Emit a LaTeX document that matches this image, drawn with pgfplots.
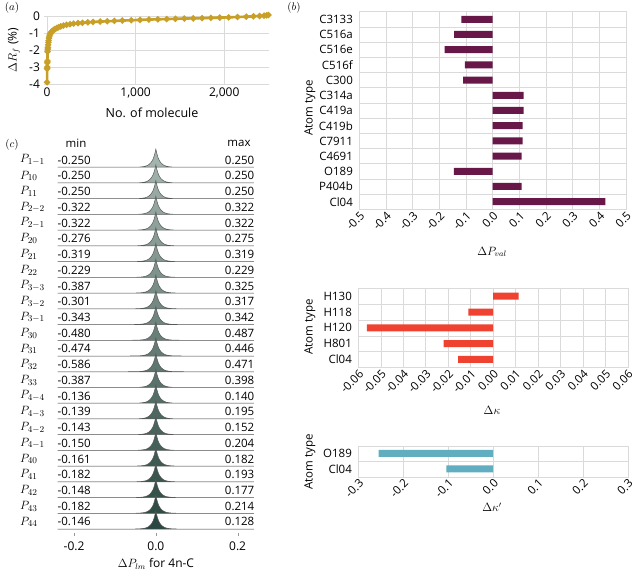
\documentclass[border=0pt]{standalone}
\usepackage{pgfplots}
\pgfplotsset{compat=1.18}
\usepackage{pgfplotstable}
\usepackage{fontspec}
\setmainfont{Open Sans}

\definecolor{gold}{RGB}{200,160,40}
\definecolor{plum}{RGB}{104,24,72}
\definecolor{tomato}{RGB}{240,66,48}
\definecolor{teal}{RGB}{96,174,192}
\definecolor{ridgeL}{RGB}{163,179,173}
\definecolor{ridgeD}{RGB}{42,72,65}
\definecolor{gridc}{RGB}{218,218,218}

% normalised peak shape shared by every ridge
\pgfplotstableread{
x d
-0.240 0
-0.070 0
-0.050 0.004
-0.040 0.012
-0.032 0.030
-0.026 0.055
-0.021 0.095
-0.017 0.150
-0.013 0.230
-0.010 0.320
-0.007 0.440
-0.005 0.560
-0.003 0.710
-0.0015 0.850
0.000 1.000
0.0015 0.850
0.003 0.710
0.005 0.560
0.007 0.440
0.010 0.320
0.013 0.230
0.017 0.150
0.021 0.095
0.026 0.055
0.032 0.030
0.040 0.012
0.050 0.004
0.070 0
0.240 0
}\shape

\pgfplotstableread{
n r
0 -3.90
1 -3.10
2 -3.00
3 -2.75
4 -2.65
6 -2.10
8 -1.95
10 -1.85
12 -1.70
15 -1.55
18 -1.45
22 -1.30
27 -1.18
33 -1.08
40 -1.00
50 -0.93
60 -0.88
75 -0.82
90 -0.77
110 -0.71
130 -0.66
155 -0.61
185 -0.56
220 -0.52
260 -0.48
300 -0.45
350 -0.42
400 -0.40
460 -0.37
520 -0.35
600 -0.33
680 -0.31
760 -0.29
850 -0.27
950 -0.25
1050 -0.23
1150 -0.21
1250 -0.195
1350 -0.18
1450 -0.165
1550 -0.15
1650 -0.14
1750 -0.125
1850 -0.11
1950 -0.095
2050 -0.08
2150 -0.06
2250 -0.04
2330 -0.02
2400 0.00
2450 0.02
2480 0.04
2500 0.06
}\rfactor

\newcommand{\ridge}[2]{\addplot[fill=ridgeL!#2!ridgeD, draw=black!65, line width=0.5pt]
  table[x=x, y expr={\thisrow{d}*1.15+#1}] {\shape} -- cycle;}

\pgfplotsset{
  barpanel/.style={
    scale only axis, anchor=north west, xbar, bar width=7pt,
    axis line style={gridc}, tick style={draw=none},
    xmajorgrids, yminorgrids, grid style={gridc}, minor grid style={gridc},
    ytick=data, scaled x ticks=false,
    font=\fontsize{11.5}{13}\selectfont,
    /pgf/number format/assume math mode=true,
    /pgf/number format/fixed, /pgf/number format/fixed zerofill,
    xticklabel style={rotate=45, anchor=north east, inner sep=1pt},
    yticklabel style={inner sep=2pt},
  },
}

\begin{document}
\begin{tikzpicture}[font=\fontsize{11.5}{13}\selectfont]
\useasboundingbox (0,0) rectangle (640pt,-572pt);

% ---------- (a) R-factor change per molecule ----------
\begin{axis}[
  scale only axis, anchor=north west, at={(43.5pt,-16pt)},
  width=225pt, height=68pt,
  xmin=-40, xmax=2500, ymin=-4, ymax=0, clip=false,
  xtick={0,1000,2000}, xticklabels={0,{1,000},{2,000}},
  ytick={-4,-3,-2,-1,0},
  axis line style={draw=none}, tick style={draw=none},
  grid=major, grid style={gridc},
  /pgf/number format/assume math mode=true,
  font=\fontsize{12}{14}\selectfont,
]
\addplot[gold, line width=2.6pt, mark=*, mark size=1.6pt] table[x=n, y=r] {\rfactor};
\end{axis}
\node[font=\itshape\fontsize{10.5}{12}\selectfont] at (12pt,-8pt) {$(a)$};
\node[rotate=90, font=\fontsize{12}{14}\selectfont] at (14pt,-50pt) {$\Delta R_f$ (\%)};
\node[font=\fontsize{12.5}{14}\selectfont] at (152pt,-113pt) {No. of molecule};

% ---------- (c) ridgeline of multipole changes ----------
\begin{axis}[
  scale only axis, anchor=north west, at={(57.7pt,-146.8pt)},
  width=196.3pt, height=386.2pt,
  xmin=-0.24, xmax=0.24, ymin=-0.25, ymax=24.3, clip=false,
  axis x line*=bottom, axis y line=none,
  x axis line style={draw=none},
  xtick={-0.2,0,0.2}, xticklabels={-0.2,0.0,0.2},
  tick style={black!40}, major tick length=3pt, tick align=outside,
  xticklabel style={yshift=-2pt},
  font=\fontsize{12}{14}\selectfont,
]
\ridge{23}{100}
\ridge{22}{96}
\ridge{21}{91}
\ridge{20}{87}
\ridge{19}{83}
\ridge{18}{78}
\ridge{17}{74}
\ridge{16}{70}
\ridge{15}{65}
\ridge{14}{61}
\ridge{13}{57}
\ridge{12}{52}
\ridge{11}{48}
\ridge{10}{43}
\ridge{9}{39}
\ridge{8}{35}
\ridge{7}{30}
\ridge{6}{26}
\ridge{5}{22}
\ridge{4}{17}
\ridge{3}{13}
\ridge{2}{9}
\ridge{1}{4}
\ridge{0}{0}
\end{axis}
\node[font=\itshape\fontsize{10.5}{12}\selectfont] at (12pt,-145pt) {$(c)$};
\node[font=\fontsize{11.5}{13}\selectfont] at (76pt,-143pt) {min};
\node[font=\fontsize{11.5}{13}\selectfont] at (239pt,-143pt) {max};
\foreach \lab/\mn/\mx [count=\k from 0] in {
  {1-1}/-0.250/0.250, {10}/-0.250/0.250, {11}/-0.250/0.250,
  {2-2}/-0.322/0.322, {2-1}/-0.322/0.322, {20}/-0.276/0.275,
  {21}/-0.319/0.319, {22}/-0.229/0.229, {3-3}/-0.387/0.325,
  {3-2}/-0.301/0.317, {3-1}/-0.343/0.342, {30}/-0.480/0.487,
  {31}/-0.474/0.446, {32}/-0.586/0.471, {33}/-0.387/0.398,
  {4-4}/-0.136/0.140, {4-3}/-0.139/0.195, {4-2}/-0.143/0.152,
  {4-1}/-0.150/0.204, {40}/-0.161/0.182, {41}/-0.182/0.193,
  {42}/-0.148/0.177, {43}/-0.182/0.214, {44}/-0.146/0.128} {
  \pgfmathsetmacro{\yy}{-(167.3+15.73*\k)+7.2}
  \node[anchor=west, inner sep=0pt, font=\fontsize{12.5}{13}\selectfont] at (20pt,\yy pt) {$P_{\lab}$};
  \node[anchor=west, inner sep=0pt, font=\fontsize{11.5}{13}\selectfont] at (57.5pt,\yy pt) {\mn};
  \node[anchor=east, inner sep=0pt, font=\fontsize{11.5}{13}\selectfont] at (254.5pt,\yy pt) {\mx};
}
\node[font=\fontsize{12}{14}\selectfont] at (156pt,-564pt) {$\Delta P_{lm}$ for 4n-C};

% ---------- (b) valence population changes ----------
\begin{axis}[
  barpanel, at={(359.3pt,-11.7pt)}, width=266.7pt, height=197.6pt,
  xmin=-0.5, xmax=0.5, ymin=-0.5, ymax=12.5,
  xtick={-0.5,-0.4,...,0.51}, /pgf/number format/precision=1,
  minor ytick={-0.5,0.5,...,12.5},
  yticklabels={Cl04,P404b,O189,C4691,C7911,C419b,C419a,C314a,C300,C516f,C516e,C516a,C3133},
]
\addplot[fill=plum, draw=none] coordinates {
  (0.4225,0) (0.109,1) (-0.145,2) (0.109,3) (0.1125,4) (0.1125,5) (0.116,6)
  (0.116,7) (-0.111,8) (-0.104,9) (-0.180,10) (-0.144,11) (-0.1175,12)};
\end{axis}
\node[font=\itshape\fontsize{10.5}{12}\selectfont] at (294pt,-8pt) {$(b)$};
\node[rotate=90] at (310pt,-108pt) {Atom type};
\node[font=\fontsize{12}{14}\selectfont] at (492pt,-252pt) {$\Delta P_{val}$};

% ---------- kappa ----------
\begin{axis}[
  barpanel, at={(358.3pt,-288.3pt)}, width=269.4pt, height=79pt,
  xmin=-0.06, xmax=0.06, ymin=-0.5, ymax=4.5,
  xtick={-0.06,-0.05,...,0.061}, /pgf/number format/precision=2,
  minor ytick={-0.5,0.5,...,4.5},
  yticklabels={Cl04,H801,H120,H118,H130},
]
\addplot[fill=tomato, draw=none] coordinates {
  (-0.0155,0) (-0.022,1) (-0.0562,2) (-0.011,3) (0.0114,4)};
\end{axis}
\node[rotate=90] at (310pt,-327pt) {Atom type};
\node[font=\fontsize{12}{14}\selectfont] at (492pt,-410pt) {$\Delta\kappa$};

% ---------- kappa prime ----------
\begin{axis}[
  barpanel, at={(358.3pt,-445.7pt)}, width=269.4pt, height=31pt,
  xmin=-0.3, xmax=0.3, ymin=-0.5, ymax=1.5,
  xtick={-0.3,-0.2,...,0.31}, /pgf/number format/precision=1,
  minor ytick={-0.5,0.5,1.5},
  yticklabels={Cl04,O189},
]
\addplot[fill=teal, draw=none] coordinates {(-0.104,0) (-0.255,1)};
\end{axis}
\node[rotate=90] at (310pt,-462pt) {Atom type};
\node[font=\fontsize{12}{14}\selectfont] at (492pt,-507pt) {$\Delta\kappa'$};
\end{tikzpicture}
\end{document}
